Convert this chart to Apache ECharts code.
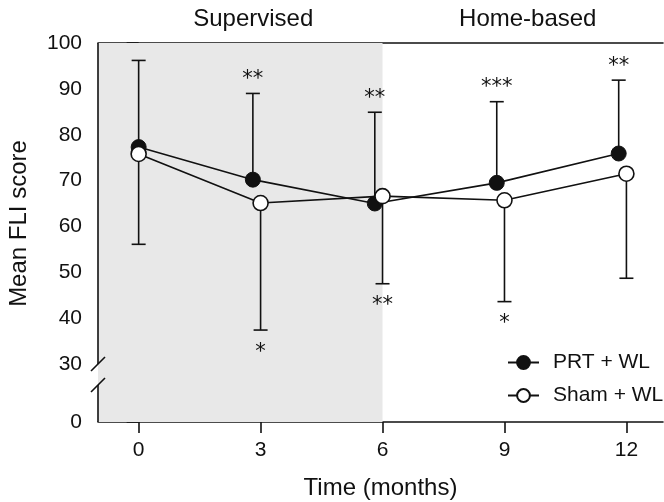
<!DOCTYPE html>
<html>
<head>
<meta charset="utf-8">
<script src="https://cdn.jsdelivr.net/npm/echarts@6/dist/echarts.min.js"></script>
<style>
  html, body { margin: 0; padding: 0; background: #fff; }
  #main { width: 664px; height: 502px; }
</style>
</head>
<body>
<div id="main"></div>
<script>
// values
var months = [0, 3, 6, 9, 12];
var prtMean = [77.3, 70.2, 65.0, 69.5, 75.9];
var prtUpper = [96.2, 89.0, 84.9, 87.2, 91.9];
var shamMean = [75.8, 65.1, 66.6, 65.7, 71.5];
var shamLower = [56.1, 37.4, 47.5, 43.6, 48.7];
var prtStars = ['', '**', '**', '***', '**'];
var shamStars = ['', '*', '**', '*', ''];
var yLabels = [30, 40, 50, 60, 70, 80, 90, 100];
var phases = ['Supervised', 'Home-based'];
var seriesNames = ['PRT + WL', 'Sham + WL'];

// axis with a break between 0 and 30: the 0 tick sits at yFloor
var yFloor = 17.35;
var yBreak = 30;
var xMin = -1, xMax = 12.9;
var prtShift = -0.19; // PRT points drawn slightly left of the tick (not at baseline)
var ink = '#111';
var font = 'Liberation Sans';

function prtX(t) { return t === 0 ? t : t + prtShift; }

var prtLine = months.map(function (t, i) { return [prtX(t), prtMean[i]]; });
var shamLine = months.map(function (t, i) { return [t, shamMean[i]]; });
var prtBars = months.map(function (t, i) { return [prtX(t), prtMean[i], prtUpper[i]]; });
var shamBars = months.map(function (t, i) { return [t, shamMean[i], shamLower[i]]; });

function errorBar(stars, below) {
  return function (params, api) {
    var p0 = api.coord([api.value(0), api.value(1)]);
    var p1 = api.coord([api.value(0), api.value(2)]);
    var st = { stroke: ink, lineWidth: 1.6 };
    var kids = [
      { type: 'line', shape: { x1: p0[0], y1: p0[1], x2: p1[0], y2: p1[1] }, style: st },
      { type: 'line', shape: { x1: p1[0] - 7, y1: p1[1], x2: p1[0] + 7, y2: p1[1] }, style: st }
    ];
    var s = stars[params.dataIndex];
    if (s) {
      kids.push({
        type: 'text', x: p1[0], y: p1[1] + (below ? 22 : -14),
        style: { text: s, fill: ink, font: '21px "DejaVu Sans"', align: 'center', verticalAlign: 'middle' }
      });
    }
    return { type: 'group', children: kids };
  };
}

// left axis line with the break marks
function brokenAxis(params, api) {
  var top = api.coord([xMin, 100]);
  var brk = api.coord([xMin, yBreak]);
  var bot = api.coord([xMin, yFloor]);
  var gap = 21;
  var st = { stroke: ink, lineWidth: 1.6 };
  return {
    type: 'group',
    children: [
      { type: 'line', shape: { x1: top[0], y1: top[1], x2: brk[0], y2: brk[1] }, style: st },
      { type: 'line', shape: { x1: bot[0], y1: brk[1] + gap, x2: bot[0], y2: bot[1] }, style: st },
      { type: 'line', shape: { x1: brk[0] - 7, y1: brk[1] + 7, x2: brk[0] + 7, y2: brk[1] - 7 }, style: st },
      { type: 'line', shape: { x1: brk[0] - 7, y1: brk[1] + gap + 7, x2: brk[0] + 7, y2: brk[1] + gap - 7 }, style: st }
    ]
  };
}

var myChart = echarts.init(document.getElementById('main'));

var option = {
  animation: false,
  backgroundColor: '#fff',
  textStyle: { fontFamily: font, color: ink },
  grid: { left: 98, right: 1, top: 43, bottom: 80, outerBoundsMode: 'none', containLabel: false },
  legend: {
    data: seriesNames,
    orient: 'vertical',
    left: 502,
    top: 347,
    itemWidth: 31,
    itemHeight: 16,
    itemGap: 12,
    textStyle: { fontSize: 21, fontFamily: font, color: ink, padding: [0, 0, 0, 9] }
  },
  xAxis: [{
    type: 'value',
    min: xMin,
    max: xMax,
    name: 'Time (months)',
    nameLocation: 'middle',
    nameGap: 54,
    nameTextStyle: { fontSize: 24, fontFamily: font, color: ink },
    axisLine: { show: true, onZero: false, lineStyle: { color: ink, width: 1.6 } },
    axisTick: { show: true, length: 11, customValues: months, lineStyle: { color: ink, width: 1.6 } },
    axisLabel: { customValues: months, fontSize: 21, color: ink, margin: 18 },
    splitLine: { show: false }
  }, {
    type: 'value',
    position: 'top',
    min: xMin,
    max: xMax,
    axisLine: { show: true, onZero: false, lineStyle: { color: ink, width: 1.6 } },
    axisTick: { show: false },
    axisLabel: { show: false },
    splitLine: { show: false }
  }],
  yAxis: {
    type: 'value',
    min: yFloor,
    max: 100,
    name: 'Mean FLI score',
    nameLocation: 'middle',
    nameGap: 67,
    nameTextStyle: { fontSize: 24, fontFamily: font, color: ink, padding: [0, 0, 0, 18] },
    axisLine: { show: false },
    axisTick: {
      show: true, length: 12,
      customValues: [yFloor].concat(yLabels.slice(1)),
      lineStyle: { color: ink, width: 1.6 }
    },
    axisLabel: {
      customValues: [yFloor].concat(yLabels),
      fontSize: 21, color: ink, margin: 16,
      formatter: function (v) { return Math.abs(v - yFloor) < 1e-6 ? '0' : String(v); }
    },
    splitLine: { show: false }
  },
  series: [{
    type: 'custom',
    name: 'axis',
    silent: true,
    clip: false,
    z: 5,
    renderItem: brokenAxis,
    data: [[xMin, yBreak]],
    markArea: {
      silent: true,
      data: [
        [{ xAxis: xMin, itemStyle: { color: '#e8e8e8', opacity: 1 },
           label: { show: true, position: 'top', distance: 12, offset: [13, 0], formatter: phases[0],
                    fontSize: 24, fontFamily: font, color: ink } },
         { xAxis: 6 }],
        [{ xAxis: 6, itemStyle: { color: 'rgba(0,0,0,0)', opacity: 0 },
           label: { show: true, position: 'top', distance: 12, offset: [5, 0], formatter: phases[1],
                    fontSize: 24, fontFamily: font, color: ink } },
         { xAxis: xMax }]
      ]
    }
  }, {
    type: 'custom',
    name: 'prtErr',
    silent: true,
    clip: false,
    z: 2,
    renderItem: errorBar(prtStars, false),
    data: prtBars
  }, {
    type: 'custom',
    name: 'shamErr',
    silent: true,
    clip: false,
    z: 2,
    renderItem: errorBar(shamStars, true),
    data: shamBars
  }, {
    type: 'line',
    name: seriesNames[0],
    data: prtLine,
    z: 3,
    symbol: 'circle',
    symbolSize: 15,
    lineStyle: { color: ink, width: 1.6 },
    itemStyle: { color: ink, borderColor: ink, borderWidth: 1 },
    emphasis: { disabled: true }
  }, {
    type: 'line',
    name: seriesNames[1],
    data: shamLine,
    z: 4,
    symbol: 'circle',
    symbolSize: 15,
    lineStyle: { color: ink, width: 1.6 },
    itemStyle: { color: '#fff', borderColor: ink, borderWidth: 1.6 },
    emphasis: { disabled: true }
  }]
};

myChart.setOption(option);
</script>
</body>
</html>
